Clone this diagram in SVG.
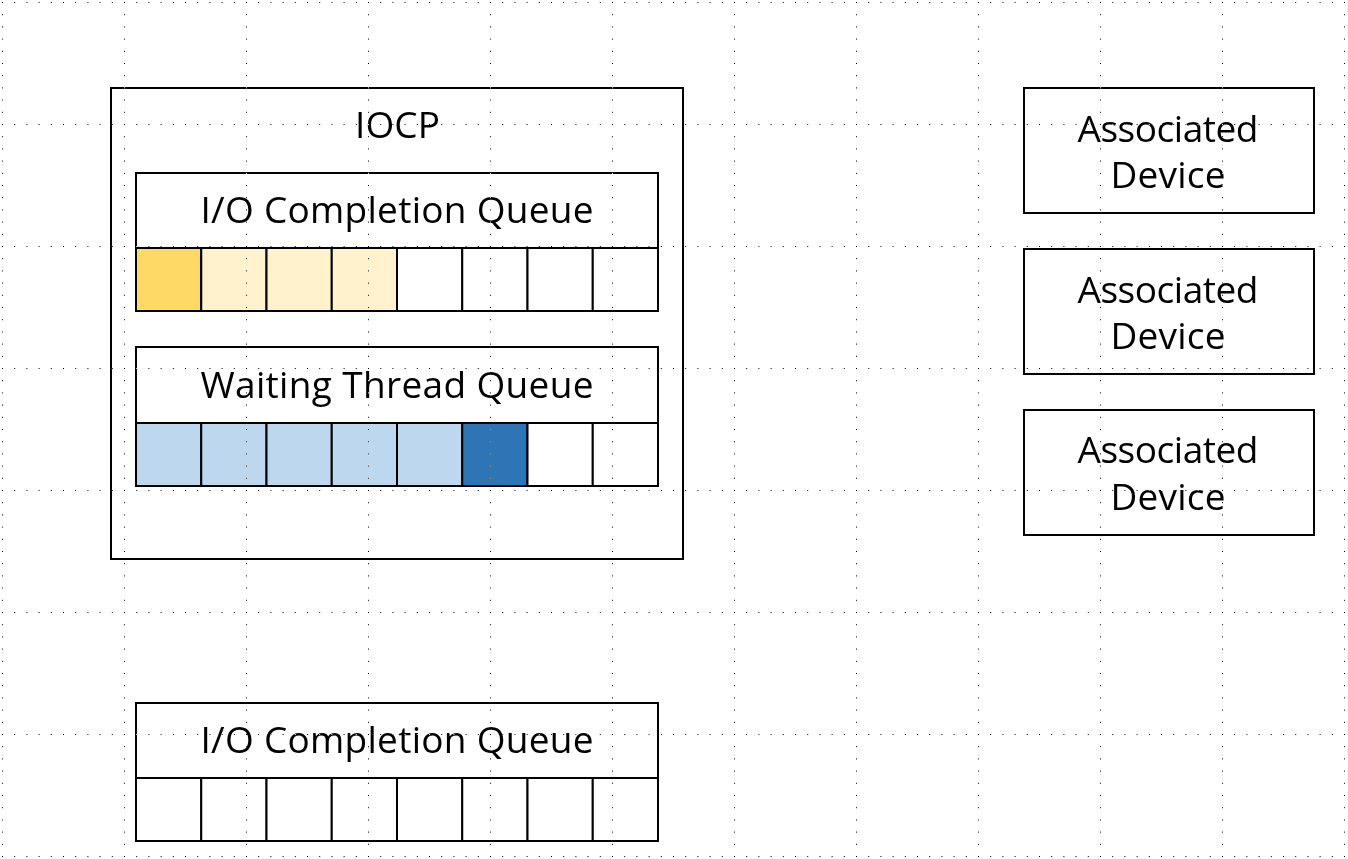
<svg xmlns="http://www.w3.org/2000/svg" width="1348" height="859" viewBox="0 0 1348 859">
<style>
.box{fill:#ffffff;stroke:#000000;stroke-width:2}
.cell{stroke:#000000;stroke-width:2}
.w{fill:#ffffff}
.y1{fill:#FFD966}
.y2{fill:#FFF2CC}
.b1{fill:#BDD7EE}
.b2{fill:#2E75B6}
.t{font-family:"Open Sans","Noto Sans","Liberation Sans",sans-serif;font-size:37px;fill:#000000;text-anchor:middle}
.grid{mix-blend-mode:difference}
</style>
<defs>
<pattern id="dots" x="0" y="0" width="122" height="122" patternUnits="userSpaceOnUse">
<g fill="#ffffff">
<rect x="2" y="2" width="1" height="1"/><rect x="14.2" y="2" width="1" height="1"/><rect x="26.4" y="2" width="1" height="1"/><rect x="38.6" y="2" width="1" height="1"/><rect x="50.8" y="2" width="1" height="1"/><rect x="63" y="2" width="1" height="1"/><rect x="75.2" y="2" width="1" height="1"/><rect x="87.4" y="2" width="1" height="1"/><rect x="99.6" y="2" width="1" height="1"/><rect x="111.8" y="2" width="1" height="1"/>
<rect x="2" y="14.2" width="1" height="1"/><rect x="2" y="26.4" width="1" height="1"/><rect x="2" y="38.6" width="1" height="1"/><rect x="2" y="50.8" width="1" height="1"/><rect x="2" y="63" width="1" height="1"/><rect x="2" y="75.2" width="1" height="1"/><rect x="2" y="87.4" width="1" height="1"/><rect x="2" y="99.6" width="1" height="1"/><rect x="2" y="111.8" width="1" height="1"/>
</g>
</pattern>
</defs>
<rect x="0" y="0" width="1348" height="859" fill="#ffffff"/>

<g id="iocp">
<rect class="box" x="111" y="88" width="572" height="471"/>
<text class="t" x="397.5" y="138" textLength="85">IOCP</text>
</g>

<g id="io-completion-queue">
<rect class="box" x="136" y="173" width="522" height="75"/>
<text class="t" x="397" y="223" textLength="393">I/O Completion Queue</text>
<rect class="cell y1" x="136" y="248" width="65.25" height="63"/>
<rect class="cell y2" x="201.25" y="248" width="65.25" height="63"/>
<rect class="cell y2" x="266.5" y="248" width="65.25" height="63"/>
<rect class="cell y2" x="331.75" y="248" width="65.25" height="63"/>
<rect class="cell w" x="397" y="248" width="65.25" height="63"/>
<rect class="cell w" x="462.25" y="248" width="65.25" height="63"/>
<rect class="cell w" x="527.5" y="248" width="65.25" height="63"/>
<rect class="cell w" x="592.75" y="248" width="65.25" height="63"/>
</g>

<g id="waiting-thread-queue">
<rect class="box" x="136" y="347" width="522" height="76"/>
<text class="t" x="397" y="398" textLength="393">Waiting Thread Queue</text>
<rect class="cell b1" x="136" y="423" width="65.25" height="63"/>
<rect class="cell b1" x="201.25" y="423" width="65.25" height="63"/>
<rect class="cell b1" x="266.5" y="423" width="65.25" height="63"/>
<rect class="cell b1" x="331.75" y="423" width="65.25" height="63"/>
<rect class="cell b1" x="397" y="423" width="65.25" height="63"/>
<rect class="cell b2" x="462.25" y="423" width="65.25" height="63"/>
<rect class="cell w" x="527.5" y="423" width="65.25" height="63"/>
<rect class="cell w" x="592.75" y="423" width="65.25" height="63"/>
</g>

<g id="io-completion-queue-2">
<rect class="box" x="136" y="703" width="522" height="75"/>
<text class="t" x="397" y="753" textLength="393">I/O Completion Queue</text>
<rect class="cell w" x="136" y="778" width="65.25" height="63"/>
<rect class="cell w" x="201.25" y="778" width="65.25" height="63"/>
<rect class="cell w" x="266.5" y="778" width="65.25" height="63"/>
<rect class="cell w" x="331.75" y="778" width="65.25" height="63"/>
<rect class="cell w" x="397" y="778" width="65.25" height="63"/>
<rect class="cell w" x="462.25" y="778" width="65.25" height="63"/>
<rect class="cell w" x="527.5" y="778" width="65.25" height="63"/>
<rect class="cell w" x="592.75" y="778" width="65.25" height="63"/>
</g>

<g id="device-1">
<rect class="box" x="1024" y="88" width="290" height="125"/>
<text class="t" x="1168" y="142" textLength="181">Associated</text>
<text class="t" x="1168" y="188" textLength="115">Device</text>
</g>

<g id="device-2">
<rect class="box" x="1024" y="249" width="290" height="125"/>
<text class="t" x="1168" y="303" textLength="181">Associated</text>
<text class="t" x="1168" y="349" textLength="115">Device</text>
</g>

<g id="device-3">
<rect class="box" x="1024" y="410" width="290" height="125"/>
<text class="t" x="1168" y="463" textLength="181">Associated</text>
<text class="t" x="1168" y="510" textLength="115">Device</text>
</g>

<g id="connectors"/>

<rect class="grid" x="0" y="0" width="1348" height="859" fill="url(#dots)"/>
</svg>
